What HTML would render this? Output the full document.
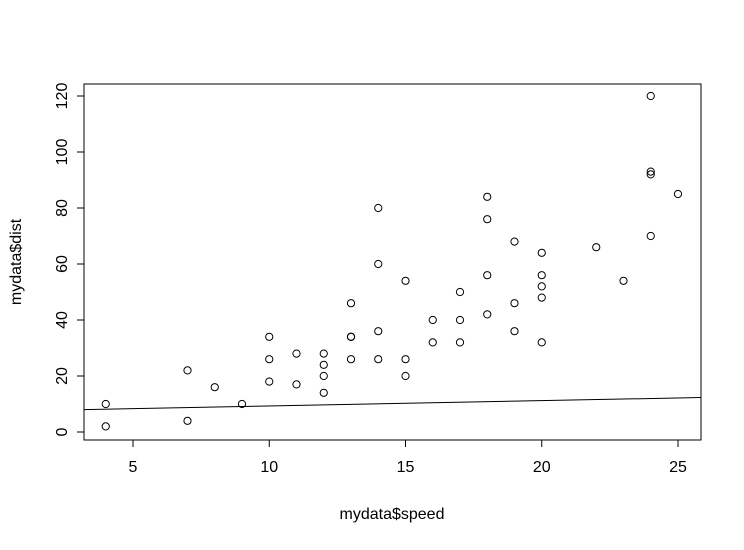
<!DOCTYPE html>
<html><head><meta charset="utf-8"><style>
body{margin:0;background:#fff}
text{font-family:"Liberation Sans",Arial,sans-serif;font-size:16px;fill:#000}
</style></head><body>
<svg id="c" width="744" height="545" xmlns="http://www.w3.org/2000/svg">
<rect x="84" y="84" width="617" height="356" fill="none" stroke="#000"/>
<text x="392" y="519" text-anchor="middle">mydata$speed</text>
<text transform="translate(21,262) rotate(-90)" text-anchor="middle">mydata$dist</text>
</svg>
<script>
const speed=[4,4,7,7,8,9,10,10,10,11,11,12,12,12,12,13,13,13,13,14,14,14,14,15,15,15,16,16,17,17,17,18,18,18,18,19,19,19,20,20,20,20,20,22,23,24,24,24,24,25];
const dist=[2,10,4,22,16,10,18,26,34,17,28,14,20,24,28,26,34,34,46,26,36,60,80,20,26,54,32,40,32,40,50,42,56,76,84,36,46,68,32,48,52,56,64,66,54,70,92,93,120,85];
const xTicks=[5,10,15,20,25];
const yTicks=[0,20,40,60,80,100,120];
const lineCoef=[7.4,0.19];
const svg=document.getElementById('c');const NS='http://www.w3.org/2000/svg';
const X=v=>133+(v-5)*27.25, Y=v=>432-v*2.8;
function mk(t,a){const e=document.createElementNS(NS,t);for(const k in a)e.setAttribute(k,a[k]);svg.appendChild(e);return e;}
const xa=mk('line',{x1:X(5),x2:X(25),y1:440,y2:440,stroke:'#000'});


xTicks.forEach(t=>{const l=mk('line',{x1:X(t),x2:X(t),y1:440,y2:447,stroke:'#000'});


const s=mk('text',{x:X(t),y:472,'text-anchor':'middle'});s.textContent=t;

});
const ya=mk('line',{x1:84,x2:84,y1:Y(0),y2:Y(120),stroke:'#000'});


yTicks.forEach(t=>{const l=mk('line',{x1:77,x2:84,y1:Y(t),y2:Y(t),stroke:'#000'});


const s=mk('text',{transform:`translate(67,${Y(t)}) rotate(-90)`,'text-anchor':'middle'});s.textContent=t;

});
speed.forEach((s,i)=>{const c=mk('circle',{cx:X(s),cy:Y(dist[i]),r:3.6,fill:'none',stroke:'#000','stroke-width':1});

});
const x0=3.2,x1=25.84;
const rl=mk('line',{x1:X(x0),x2:X(x1),y1:Y(lineCoef[0]+lineCoef[1]*x0),y2:Y(lineCoef[0]+lineCoef[1]*x1),stroke:'#000'});


</script>
</body></html>
